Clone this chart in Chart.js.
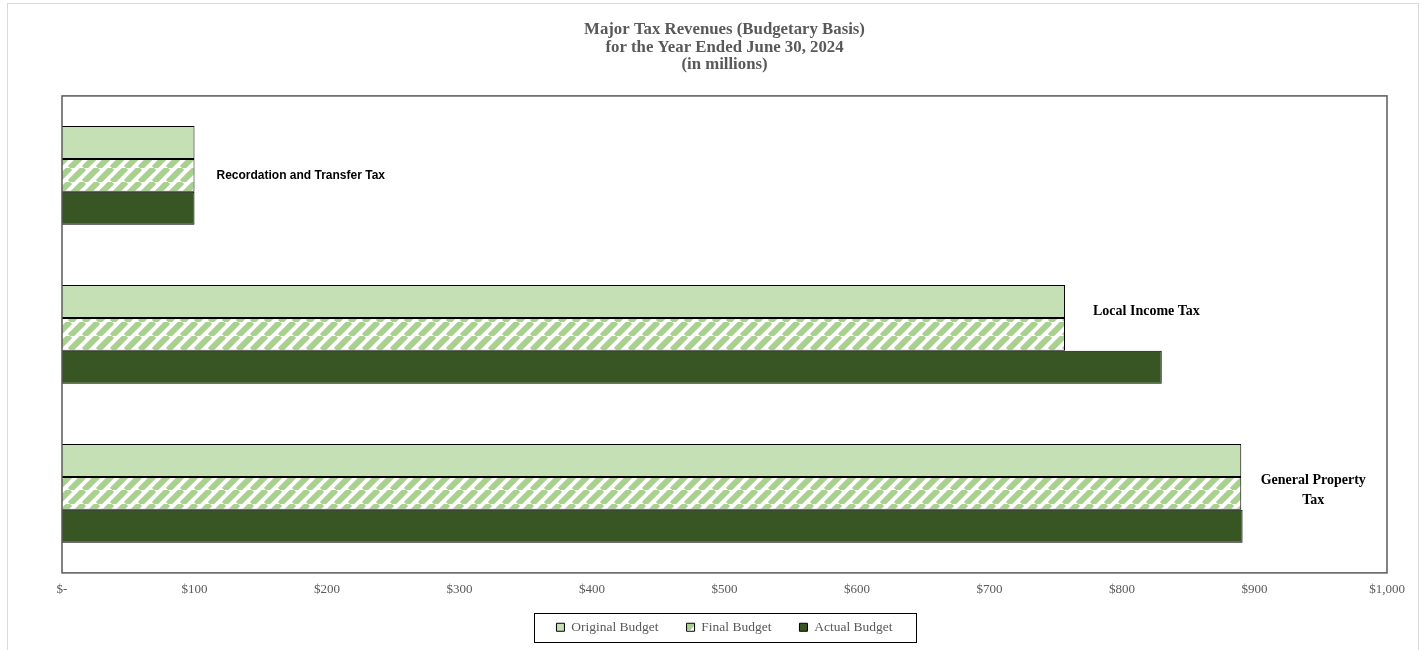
<!DOCTYPE html>
<html>
<head>
<meta charset="utf-8">
<title>Major Tax Revenues</title>
<script src="https://cdn.jsdelivr.net/npm/chart.js@4.4.1/dist/chart.umd.min.js"></script>
<style>
  html, body { margin: 0; padding: 0; background: #fff; }
  #wrap { width: 1426px; height: 650px; }
</style>
</head>
<body>
<div id="wrap"><canvas id="revenues" width="1426" height="650"></canvas></div>
<script>
const categories = ['Recordation and Transfer Tax', 'Local Income Tax', 'General Property Tax'];
const originalBudget = [100, 757, 890];
const finalBudget = [100, 757, 890];
const actualBudget = [100, 830, 891];
const tickValues = [0, 100, 200, 300, 400, 500, 600, 700, 800, 900, 1000];

// wrapped text for the labels beside each group
const categoryText = [['Recordation and Transfer Tax'], ['Local Income Tax'], ['General Property', 'Tax']];

const grey = '#595959';
const serif = '"Liberation Serif", "Times New Roman", serif';

// diagonal hatch used for the final budget bars
function hatch() {
    const size = 14;
    const c = document.createElement('canvas');
    c.width = size;
    c.height = size;
    const g = c.getContext('2d');
    g.fillStyle = '#ffffff';
    g.fillRect(0, 0, size, size);
    g.strokeStyle = '#a9d18e';
    g.lineWidth = 6;
    for (let k = -1; k <= 1; k++) {
        g.beginPath();
        g.moveTo(k * size, size);
        g.lineTo(k * size + size, 0);
        g.stroke();
    }
    return g.createPattern(c, 'repeat');
}

const frame = {
    id: 'frame',
    afterLayout(chart) {
        // pull the legend up closer to the axis labels
        chart.legend.top -= 14;
        chart.legend.bottom -= 14;
    },
    beforeDraw(chart) {
        const ctx = chart.ctx;
        ctx.save();
        ctx.strokeStyle = '#d9d9d9';
        ctx.lineWidth = 1;
        ctx.strokeRect(7.5, 3.5, 1411, 660);
        ctx.restore();
    },
    afterDatasetsDraw(chart) {
        const ctx = chart.ctx;
        const a = chart.chartArea;
        ctx.save();
        ctx.strokeStyle = grey;
        ctx.lineWidth = 1.5;
        ctx.strokeRect(a.left, a.top, a.right - a.left, a.bottom - a.top);
        ctx.restore();
    },
    afterDraw(chart) {
        // box round the legend
        const boxes = chart.legend.legendHitBoxes;
        if (!boxes.length) return;
        const ctx = chart.ctx;
        const x0 = Math.min(...boxes.map(b => b.left)) - 22;
        const x1 = Math.max(...boxes.map(b => b.left + b.width)) + 24;
        const cy = boxes[0].top + boxes[0].height / 2;
        ctx.save();
        ctx.strokeStyle = '#000';
        ctx.lineWidth = 1;
        ctx.strokeRect(Math.round(x0) + 0.5, Math.round(cy - 14) + 0.5, Math.round(x1 - x0), 29);
        ctx.restore();
    }
};

const groupLabels = {
    id: 'groupLabels',
    afterDatasetsDraw(chart) {
        const ctx = chart.ctx;
        const x = chart.scales.x;
        const y = chart.scales.y;
        const place = [
            {dx: 22, dy: 0, align: 'left', font: 'bold 12px "Liberation Sans", Arial, sans-serif'},
            {dx: 28, dy: -23, align: 'left', font: 'bold 14px ' + serif},
            {dx: 72, dy: -3, align: 'center', font: 'bold 14px ' + serif}
        ];
        ctx.save();
        ctx.fillStyle = '#000';
        ctx.textBaseline = 'middle';
        categoryText.forEach((lines, i) => {
            const p = place[i];
            ctx.font = p.font;
            ctx.textAlign = p.align;
            const px = x.getPixelForValue(originalBudget[i]) + p.dx;
            const py = y.getPixelForValue(i) + p.dy - (lines.length - 1) * 10;
            lines.forEach((t, j) => ctx.fillText(t, px, py + j * 20));
        });
        ctx.restore();
    }
};

new Chart(document.getElementById('revenues'), {
    type: 'bar',
    data: {
        labels: categories,
        datasets: [
            {label: 'Original Budget', data: originalBudget, backgroundColor: '#c5e0b4'},
            {label: 'Final Budget', data: finalBudget, backgroundColor: hatch()},
            {label: 'Actual Budget', data: actualBudget, backgroundColor: '#375623'}
        ]
    },
    options: {
        indexAxis: 'y',
        responsive: false,
        animation: false,
        layout: {padding: {left: 62, right: 39, top: 0, bottom: -8}},
        datasets: {
            bar: {
                borderColor: '#000',
                borderWidth: 1,
                categoryPercentage: 0.62,
                barPercentage: 1
            }
        },
        scales: {
            x: {
                min: 0,
                max: 1000,
                afterBuildTicks: s => { s.ticks = tickValues.map(v => ({value: v})); },
                grid: {display: false, drawTicks: false},
                border: {display: false},
                ticks: {
                    padding: 9,
                    color: grey,
                    font: {family: serif, size: 13},
                    callback: v => v === 0 ? '$-' : '$' + v.toLocaleString('en-US')
                }
            },
            y: {display: false}
        },
        plugins: {
            title: {
                display: true,
                text: ['Major Tax Revenues (Budgetary Basis)', 'for the Year Ended June 30, 2024', '(in millions)'],
                color: grey,
                font: {family: serif, size: 16.8, weight: 'bold', lineHeight: 1.04},
                padding: {top: 21, bottom: 22.5}
            },
            legend: {
                position: 'bottom',
                labels: {
                    color: grey,
                    boxWidth: 8,
                    boxHeight: 8,
                    padding: 28,
                    font: {family: serif, size: 13.5}
                }
            },
            tooltip: {enabled: false}
        }
    },
    plugins: [frame, groupLabels]
});
</script>
</body>
</html>
